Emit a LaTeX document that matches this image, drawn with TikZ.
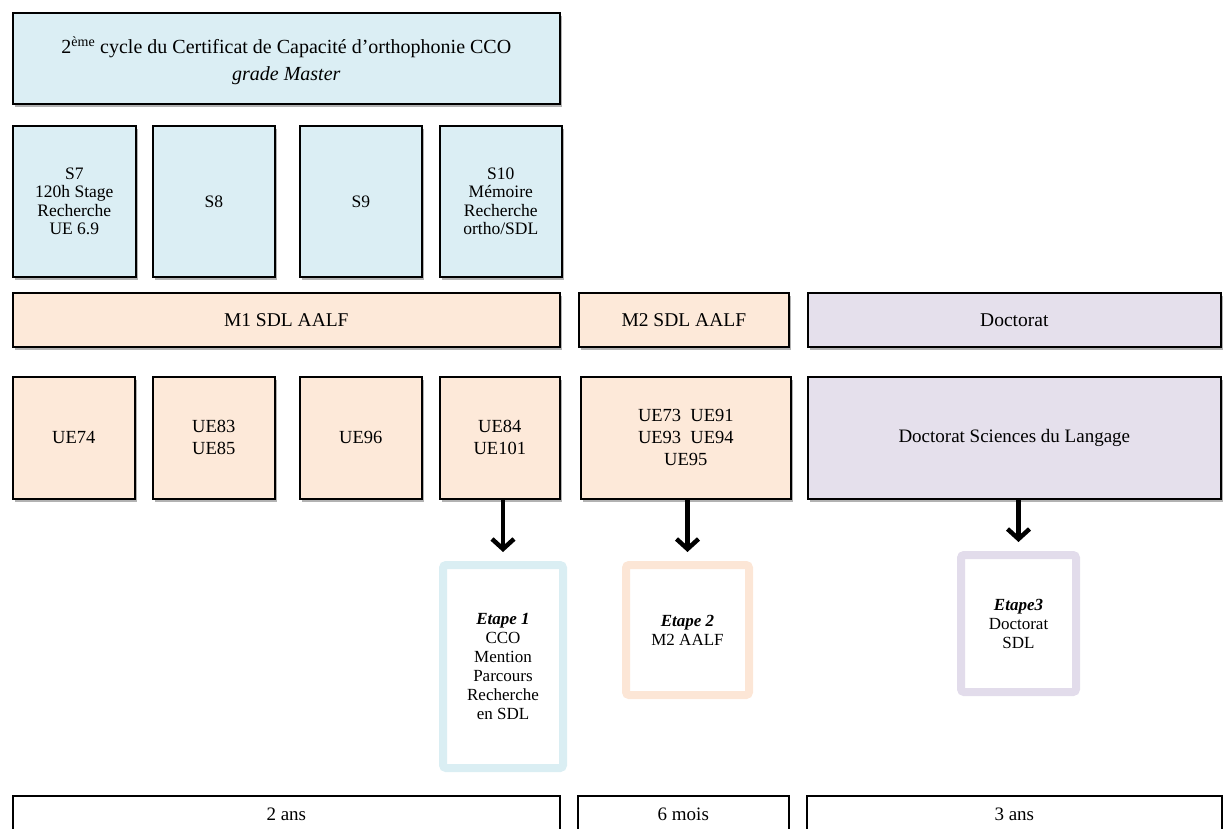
\documentclass[tikz,border=0pt]{standalone}
\usepackage{fontspec}
\usepackage{graphicx}
\setmainfont{Liberation Serif}
\usetikzlibrary{shadows,arrows.meta}
\definecolor{cblue}{HTML}{DBEEF4}
\definecolor{cpeach}{HTML}{FDE9D9}
\definecolor{clav}{HTML}{E5E0EC}
\definecolor{eblue}{HTML}{DAEEF3}
\definecolor{epeach}{HTML}{FCE6D6}
\definecolor{elav}{HTML}{E2DCEB}
\tikzset{
  box/.style={draw=black, line width=1.6pt, anchor=north west, inner sep=2pt,
    align=center, font=\fontsize{18.5}{22}\selectfont,
    drop shadow={shadow xshift=2pt, shadow yshift=-3pt, opacity=0.3, fill=black}},
  sembox/.style={box, fill=cblue, minimum width=122pt, minimum height=151pt,
    font=\fontsize{17.5}{18.5}\selectfont},
  head/.style={box, minimum height=54pt, font=\fontsize{19.5}{22}\selectfont},
  uebox/.style={box, minimum height=122pt, font=\fontsize{18.5}{22}\selectfont},
  bbox/.style={draw=black, line width=1.6pt, anchor=north west, fill=white, inner sep=2pt,
    align=center, font=\fontsize{19}{22}\selectfont},
  etape/.style={line width=8pt, rounded corners=3pt, fill=white, anchor=north west,
    align=center, font=\fontsize{17}{19}\selectfont,
    drop shadow={shadow xshift=1.5pt, shadow yshift=-3pt, opacity=0.25, fill=black}},
  arr/.style={line width=4.5pt, -{Straight Barb[length=10pt,width=22pt,line width=4.5pt]}, shorten >=9pt}
}
\begin{document}
\begin{tikzpicture}[x=1pt,y=-1pt]
\useasboundingbox (0,0) rectangle (1223,829);
\clip (0,0) rectangle (1223,829);
% top
\node[box, fill=cblue, minimum width=547pt, minimum height=91pt, font=\fontsize{20}{27}\selectfont] (top) at (12,12)
  {\mbox{}\\[-5pt]2\textsuperscript{ème} cycle du Certificat de Capacité d’orthophonie CCO\\ \textit{grade Master}};
% semesters
\node[sembox, minimum width=123pt] (s7) at (12,125) {S7\\120h Stage\\Recherche\\UE 6.9};
\node[sembox] (s8) at (152,125) {S8};
\node[sembox] (s9) at (299,125) {S9};
\node[sembox] (s10) at (439,125) {S10\\Mémoire\\Recherche\\ortho/SDL};
% programs
\node[head, fill=cpeach, minimum width=547pt] (m1) at (12,292) {M1 SDL AALF};
\node[head, fill=cpeach, minimum width=210pt] (m2) at (578,292) {M2 SDL AALF};
\node[head, fill=clav, minimum width=413pt] (doc) at (807,292) {Doctorat};
% UEs
\node[uebox, fill=cpeach, minimum width=122pt] (ue74) at (12,376) {UE74};
\node[uebox, fill=cpeach, minimum width=122pt] (ue83) at (152,376) {UE83\\UE85};
\node[uebox, fill=cpeach, minimum width=122pt] (ue96) at (299,376) {UE96};
\node[uebox, fill=cpeach, minimum width=120pt] (ue84) at (439,376) {UE84\\UE101};
\node[uebox, fill=cpeach, minimum width=210pt] (m2ue) at (580,376) {UE73\ \ UE91\\UE93\ \ UE94\\UE95};
\node[uebox, fill=clav, minimum width=413pt, font=\fontsize{19}{22}\selectfont] (docsdl) at (807,376) {Doctorat Sciences du Langage};
% etapes
\node[etape, draw=eblue, minimum width=120pt, minimum height=203pt] (e1) at (439,561)
  {\textbf{\textit{Etape 1}}\\CCO\\Mention\\Parcours\\Recherche\\en SDL};
\node[etape, draw=epeach, minimum width=123pt, minimum height=130pt] (e2) at (622,561)
  {\textbf{\textit{Etape 2}}\\M2 AALF};
\node[etape, draw=elav, minimum width=115pt, minimum height=137pt] (e3) at (957,551)
  {\textbf{\textit{Etape3}}\\Doctorat\\SDL};
% arrows
\draw[arr] (ue84.south -| e1.north) -- (e1.north);
\draw[arr] (m2ue.south -| e2.north) -- (e2.north);
\draw[arr] (docsdl.south -| e3.north) -- (e3.north);
% durations
\node[bbox, minimum width=547pt, minimum height=60pt, text depth=24pt] (d1) at (12,795) {2 ans};
\node[bbox, minimum width=211pt, minimum height=60pt, text depth=24pt] (d2) at (577,795) {6 mois};
\node[bbox, minimum width=415pt, minimum height=60pt, text depth=24pt] (d3) at (806,795) {3 ans};
\end{tikzpicture}
\end{document}
